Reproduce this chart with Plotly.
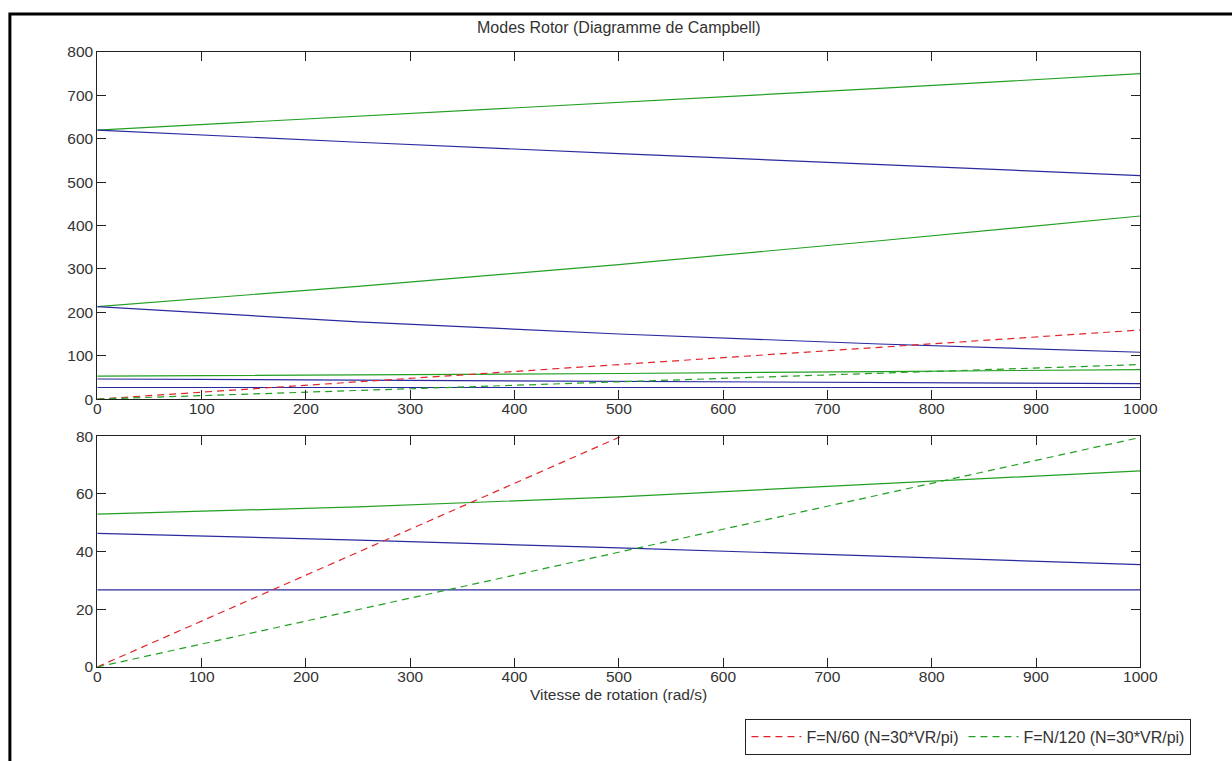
import plotly.graph_objects as go

# Rotation speed (rad/s) sample points
speed = [0, 250, 500, 750, 1000]

# Natural frequency branches (Hz)
green_mode1 = [620, 652, 684, 716, 750]
blue_mode1 = [620, 592, 566, 540, 515]
green_mode2 = [213, 260, 310, 365, 422]
blue_mode2 = [213, 178, 150, 127, 108]
green_mode3 = [53, 55.5, 59, 63.5, 68]
blue_mode3 = [46.3, 44, 41.3, 38.4, 35.5]
blue_mode4 = [26.7, 26.7, 26.7, 26.7, 26.7]

# Excitation lines
exc_speed = [0, 1000]
f_n60 = [0, 159.2]
f_n120 = [0, 79.6]

BLUE = "#2a2aa0"
GREEN = "#23a023"
RED = "#e0262a"

fig = go.Figure()

modes = [
    (green_mode1, GREEN), (blue_mode1, BLUE),
    (green_mode2, GREEN), (blue_mode2, BLUE),
    (green_mode3, GREEN), (blue_mode3, BLUE),
    (blue_mode4, BLUE),
]

for axis_suffix in ["", "2"]:
    for vals, col in modes:
        fig.add_trace(go.Scatter(x=speed, y=vals, mode="lines",
                                 line=dict(color=col, width=1.2),
                                 showlegend=False,
                                 xaxis="x" + axis_suffix, yaxis="y" + axis_suffix))
    fig.add_trace(go.Scatter(x=exc_speed, y=f_n60, mode="lines",
                             line=dict(color=RED, width=1.2, dash="7px,5px"),
                             name="F=N/60 (N=30*VR/pi)",
                             showlegend=(axis_suffix == "2"),
                             xaxis="x" + axis_suffix, yaxis="y" + axis_suffix))
    fig.add_trace(go.Scatter(x=exc_speed, y=f_n120, mode="lines",
                             line=dict(color=GREEN, width=1.2, dash="7px,5px"),
                             name="F=N/120 (N=30*VR/pi)",
                             showlegend=(axis_suffix == "2"),
                             xaxis="x" + axis_suffix, yaxis="y" + axis_suffix))

W, H = 1232, 761
xdom = [95 / W, 1157 / W]
top_dom = [1 - 399 / H, 1 - 44 / H]
bot_dom = [1 - 673 / H, 1 - 437 / H]

FS = 15.5
axis_common = dict(showgrid=False, zeroline=False, showline=True, linecolor="#222",
                   linewidth=1, mirror="ticks", ticks="inside", ticklen=9,
                   tickcolor="#222", tickfont=dict(size=FS, color="#333"))
xaxis_extra = dict(ticklabelstandoff=-5)

fig.update_layout(
    width=W, height=H,
    margin=dict(l=0, r=0, t=0, b=0),
    paper_bgcolor="white", plot_bgcolor="white",
    font=dict(family="Liberation Sans Narrow, Liberation Sans, Arial", size=FS, color="#333"),
    xaxis=dict(domain=xdom, range=[0, 1000], dtick=100, anchor="y", **axis_common, **xaxis_extra),
    yaxis=dict(domain=top_dom, range=[0, 800], dtick=100, anchor="x", **axis_common),
    xaxis2=dict(domain=xdom, range=[0, 1000], dtick=100, anchor="y2", **axis_common, **xaxis_extra),
    yaxis2=dict(domain=bot_dom, range=[0, 80], dtick=20, anchor="x2", **axis_common),
    legend=dict(orientation="h", x=1209 / W, xanchor="right", y=1 - 726 / H, yanchor="top",
                bgcolor="white", bordercolor="#222", borderwidth=1,
                font=dict(size=16), tracegroupgap=0, itemwidth=50),
    showlegend=True,
)

fig.add_annotation(text="Modes Rotor (Diagramme de Campbell)", xref="paper", yref="paper",
                   x=626 / W, y=1 - 19 / H, yanchor="middle", showarrow=False,
                   font=dict(size=16))
fig.add_annotation(text="Vitesse de rotation (rad/s)", xref="paper", yref="paper",
                   x=626 / W, y=1 - 701 / H, yanchor="middle", showarrow=False,
                   font=dict(size=FS))

# outer frame
fig.add_shape(type="rect", xref="paper", yref="paper", x0=6 / W, y0=-0.05, x1=1.05, y1=1 - 5 / H,
              line=dict(color="black", width=3))

fig.write_html("out.html")
